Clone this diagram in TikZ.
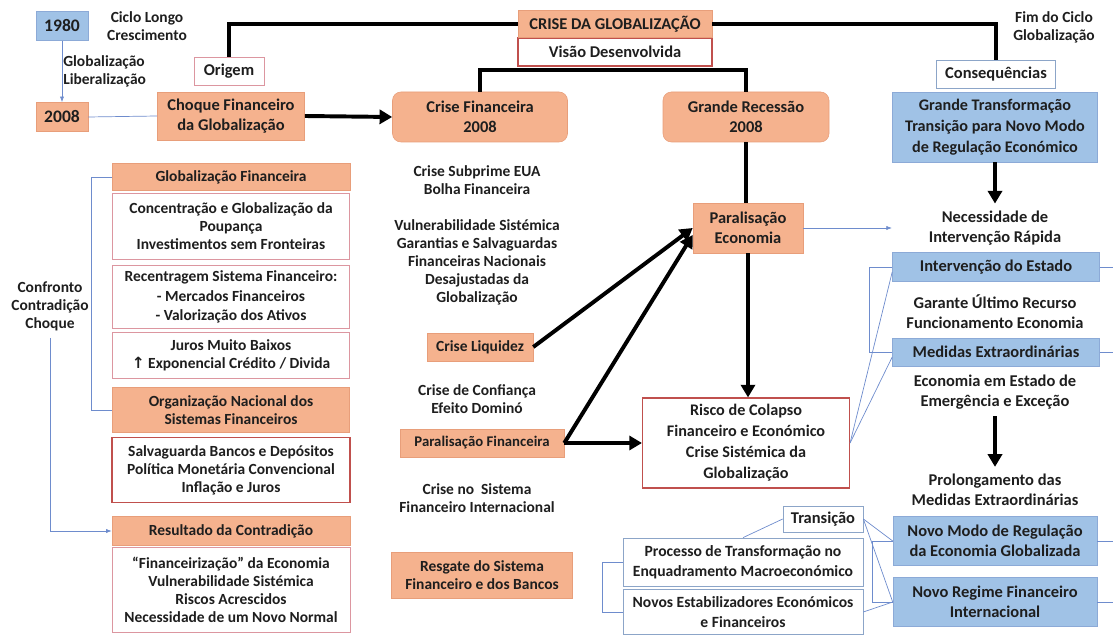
\documentclass[tikz,border=0pt]{standalone}
\usepackage{fontspec}
\setmainfont{Carlito}
\newfontfamily\simbolos{DejaVu Sans}
\usetikzlibrary{arrows.meta,calc}

\definecolor{laranja}{RGB}{245,178,142}
\definecolor{laranjaborda}{RGB}{232,158,122}
\definecolor{azul}{RGB}{160,194,230}
\definecolor{azulborda}{RGB}{140,170,215}
\definecolor{vermelho}{RGB}{192,80,77}
\definecolor{rosa}{RGB}{220,150,160}
\definecolor{cinzaazul}{RGB}{140,165,200}
\definecolor{linha}{RGB}{110,140,205}
\definecolor{texto}{RGB}{30,30,30}

\begin{document}
\begin{tikzpicture}[x=0.025cm,y=-0.025cm,
    every node/.style={align=center,inner sep=0pt,text=texto,
      font=\fontsize{11}{12.8}\selectfont\bfseries},
    direita/.style={font=\fontsize{11.7}{14.2}\selectfont\bfseries},
    wh/.style 2 args={minimum width=#1*0.025cm,minimum height=#2*0.025cm},
    laranjabox/.style={fill=laranja,draw=laranjaborda,line width=0.4pt},
    azulbox/.style={fill=azul,draw=azulborda,line width=0.4pt},
    brancobox/.style={fill=white,draw=rosa,line width=0.6pt},
    vermbox/.style={fill=white,draw=vermelho,line width=0.8pt},
    cinzabox/.style={fill=white,draw=cinzaazul,line width=0.5pt},
    grosso/.style={line width=2.8pt,black},
    seta/.style={grosso,-{Triangle[length=9pt,width=10pt]}},
    fino/.style={linha,line width=0.5pt},
    setafina/.style={fino,-{Latex[length=4pt,width=3pt]}}]
  \useasboundingbox (0,0) rectangle (1113,635);
  \coordinate (borda) at (1113,0);

  % ciclo 1980 - 2008
  \node[azulbox,wh={52}{29},font=\fontsize{12.5}{14}\selectfont\bfseries] (a1980) at (62,26) {1980};
  \node (ciclo) at (147,26) {Ciclo Longo\\Crescimento};
  \node[align=left,anchor=west] (glob) at (63,71) {Globalização\\Liberalização};
  \node[laranjabox,wh={52}{29},font=\fontsize{12.5}{14}\selectfont\bfseries] (a2008) at (62,117) {2008};
  \node[laranjabox,direita,wh={147}{48}] (choque) at (231,116) {Choque Financeiro\\da Globalização};
  \node[brancobox,direita,wh={70}{28}] (origem) at (229,71) {Origem};
  \draw[setafina] (a1980.south) -- (a2008.north);
  \draw[fino] (a2008.east) -- (choque.west);

  % topo
  \node[vermbox,direita,wh={194}{28}] (visao) at (615,52) {Visão Desenvolvida};
  \node[laranjabox,direita,wh={194}{27}] (crise) at (615,24) {CRISE DA GLOBALIZAÇÃO};
  \node[laranjabox,direita,rounded corners=6pt,wh={175}{50}] (cfin) at (480,117) {Crise Financeira\\2008};
  \node[laranjabox,direita,rounded corners=6pt,wh={166}{50}] (grec) at (746,117) {Grande Recessão\\2008};
  \node (fim) at (1054,27) {Fim do Ciclo\\Globalização};
  \node[cinzabox,direita,wh={119}{28}] (conseq) at (996,74) {Consequências};
  \node[azulbox,wh={205}{70},font=\fontsize{11.5}{14.8}\selectfont\bfseries] (gtrans) at (995,127) {Grande Transformação\\Transição para Novo Modo\\de Regulação Económico};

  \draw[grosso] (origem.north) |- (crise.west);
  \draw[grosso] (crise.east) -| (conseq.north);
  \draw[seta] (choque.east) -- (cfin.west);
  \draw[grosso] (cfin.north) -- ++(0,-22) -| (grec.north);

  % coluna esquerda
  \node[laranjabox,wh={238}{27}] (globfin) at (231,177) {Globalização Financeira};
  \node[brancobox,wh={237}{66}] (concentr) at (231,226) {Concentração e Globalização da\\Poupança\\Investimentos sem Fronteiras};
  \node[brancobox,wh={237}{63},font=\fontsize{11}{14}\selectfont\bfseries] (recentr) at (231,297) {Recentragem Sistema Financeiro:\\- Mercados Financeiros\\- Valorização dos Ativos};
  \node[brancobox,wh={237}{46}] (juros) at (231,355) {Juros Muito Baixos\\{\simbolos ↑} Exponencial Crédito / Divida};
  \node[laranjabox,wh={237}{45}] (orgnac) at (231,410) {Organização Nacional dos\\Sistemas Financeiros};
  \node[vermbox,wh={238}{65}] (salvag) at (231,470) {Salvaguarda Bancos e Depósitos\\Política Monetária Convencional\\Inflação e Juros};
  \node[laranjabox,wh={238}{29}] (resultado) at (231,531) {Resultado da Contradição};
  \node[brancobox,wh={238}{85}] (financ) at (231,590) {“Financeirização” da Economia\\Vulnerabilidade Sistémica\\Riscos Acrescidos\\Necessidade de um Novo Normal};
  \node (confronto) at (50,306) {Confronto\\Contradição\\Choque};
  \draw[fino] (globfin.west) -- ++(-20,0) |- (orgnac.west);
  \draw[setafina,shorten <=5pt] (confronto.south) |- (resultado.west);

  % coluna central
  \node (subprime) at (477,180) {Crise Subprime EUA\\Bolha Financeira};
  \node (vulner) at (477,262) {Vulnerabilidade Sistémica\\Garantias e Salvaguardas\\Financeiras Nacionais\\Desajustadas da\\Globalização};
  \node[laranjabox,wh={106}{28}] (cliq) at (480,347) {Crise Liquidez};
  \node (confianca) at (477,399) {Crise de Confiança\\Efeito Dominó};
  \node[laranjabox,wh={164}{28},font=\fontsize{10.5}{12}\selectfont\bfseries] (pfin) at (482,443) {Paralisação Financeira};
  \node (sistema) at (477,498) {Crise no\ \ Sistema\\Financeiro Internacional};
  \node[laranjabox,wh={181}{46}] (resgate) at (482,575) {Resgate do Sistema\\Financeiro e dos Bancos};

  \node[laranjabox,direita,wh={110}{50}] (pecon) at (748,228) {Paralisação\\Economia};
  \node[vermbox,wh={207}{90},font=\fontsize{11.5}{14.9}\selectfont\bfseries] (risco) at (746,443) {Risco de Colapso\\Financeiro e Económico\\Crise Sistémica da\\Globalização};
  \draw[grosso] (grec.south) -- (grec.south |- pecon.north);
  \draw[seta] (pecon.south) -- (pecon.south |- risco.north);
  \draw[seta] (cliq.east) -- (pecon.west);
  \draw[seta] (pfin.east) -- ($(pecon.west)+(0,7)$);
  \draw[seta] (pfin.east) -- (risco.west);

  % coluna direita
  \node[direita] (neces) at (995,228) {Necessidade de\\Intervenção Rápida};
  \node[azulbox,direita,wh={207}{29}] (estado) at (996,267) {Intervenção do Estado};
  \node[direita] (garante) at (995,312) {Garante Último Recurso\\Funcionamento Economia};
  \node[azulbox,direita,wh={207}{28}] (medidas) at (996,352) {Medidas Extraordinárias};
  \node[direita] (emerg) at (995,392) {Economia em Estado de\\Emergência e Exceção};
  \node[direita] (prolong) at (995,490) {Prolongamento das\\Medidas Extraordinárias};
  \node[azulbox,direita,wh={204}{49}] (nmodo) at (995,541) {Novo Modo de Regulação\\da Economia Globalizada};
  \node[azulbox,direita,wh={204}{49}] (nregime) at (995,602) {Novo Regime Financeiro\\Internacional};
  \coordinate (necesseta) at (892,228);

  \draw[seta,shorten >=5pt] (gtrans.south) -- (neces.north);
  \draw[seta,shorten <=5pt,shorten >=5pt] (emerg.south) -- (prolong.north);
  \draw[setafina] (pecon.east) -- (necesseta);
  \draw[fino] (estado.west) -- ++(-23,0) |- (medidas.west);
  \draw[fino] (risco.east) -- ($(estado.west)+(0,5)$);
  \draw[fino] (risco.east) -- ($(medidas.west)+(0,5)$);
  \foreach \caixa in {estado,medidas,nmodo,nregime}
    \draw[fino] (\caixa.east) -- (\caixa.east -| borda);

  % transicao
  \node[cinzabox,direita,wh={80}{26}] (transicao) at (823,519) {Transição};
  \node[cinzabox,wh={240}{48},font=\fontsize{11.1}{14}\selectfont\bfseries] (processo) at (743,562) {Processo de Transformação no\\Enquadramento Macroeconómico};
  \node[cinzabox,wh={240}{45},font=\fontsize{11.1}{14}\selectfont\bfseries] (novos) at (743,612) {Novos Estabilizadores Económicos\\e Financeiros};
  \draw[fino] (processo.west) -- ++(-20,0) |- (novos.west);
  \draw[fino] (processo.north) -- (transicao.west);
  \draw[fino] (transicao.east) -- (nmodo.west);
  \draw[fino] (transicao.east) -- (nregime.west);
  \draw[fino] (nmodo.west) -- ++(-20,0) |- (nregime.west);
  \draw[fino] (novos.east) -- (nregime.west);
\end{tikzpicture}
\end{document}
